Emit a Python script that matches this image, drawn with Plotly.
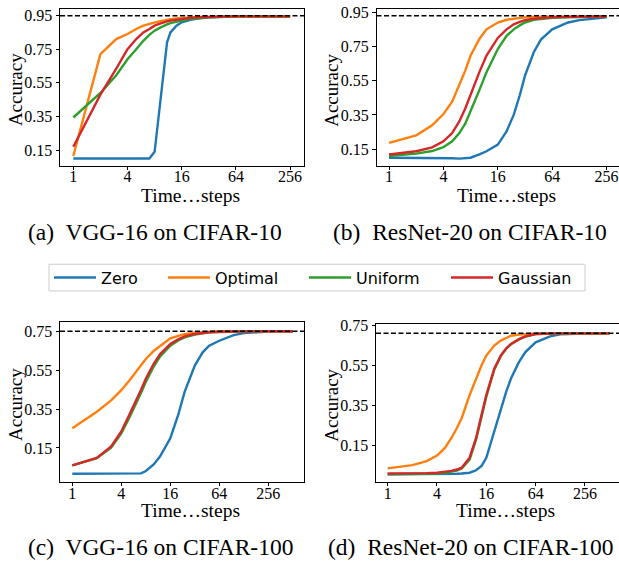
import math
import plotly.graph_objects as go

W, H = 619, 565

series_names = ["Zero", "Optimal", "Uniform", "Gaussian"]
series_colors = ["#1f77b4", "#ff7f0e", "#2ca02c", "#d62728"]

x_tick_vals = [1, 4, 16, 64, 256]
x_tick_text = ["1", "4", "16", "64", "256"]
y_ticks_top = [0.15, 0.35, 0.55, 0.75, 0.95]
y_ticks_bottom = [0.15, 0.35, 0.55, 0.75]

x_title = "Time\u2026steps"
y_title = "Accuracy"
captions = ["(a)\u00a0 VGG-16 on CIFAR-10", "(b)\u00a0 ResNet-20 on CIFAR-10",
            "(c)\u00a0 VGG-16 on CIFAR-100", "(d)\u00a0 ResNet-20 on CIFAR-100"]

# ---- (a) VGG-16 on CIFAR-10
steps_a = [1, 2, 3, 4, 5, 6, 7, 8, 9, 10, 11, 12, 14, 16, 20, 24, 32, 48, 64, 128, 256]
zero_a = [0.10, 0.10, 0.10, 0.10, 0.10, 0.10, 0.10, 0.14, 0.38, 0.615, 0.79, 0.85, 0.89, 0.91, 0.925, 0.932, 0.940, 0.943, 0.945, 0.945, 0.945]
optimal_a = [0.115, 0.72, 0.81, 0.84, 0.87, 0.89, 0.90, 0.91, 0.915, 0.92, 0.925, 0.928, 0.932, 0.935, 0.939, 0.941, 0.943, 0.944, 0.945, 0.945, 0.945]
uniform_a = [0.344, 0.49, 0.595, 0.69, 0.75, 0.80, 0.835, 0.86, 0.875, 0.888, 0.897, 0.905, 0.914, 0.92, 0.93, 0.935, 0.94, 0.943, 0.945, 0.945, 0.945]
gaussian_a = [0.17, 0.48, 0.635, 0.75, 0.81, 0.85, 0.87, 0.89, 0.90, 0.91, 0.915, 0.92, 0.926, 0.93, 0.936, 0.939, 0.942, 0.944, 0.945, 0.945, 0.945]
ref_a = 0.948

# ---- (b) ResNet-20 on CIFAR-10
steps_b = [1, 2, 3, 4, 5, 6, 7, 8, 10, 12, 16, 20, 24, 28, 32, 40, 48, 64, 96, 128, 256]
zero_b = [0.10, 0.10, 0.10, 0.10, 0.097, 0.095, 0.096, 0.10, 0.12, 0.138, 0.177, 0.254, 0.35, 0.465, 0.58, 0.716, 0.79, 0.85, 0.89, 0.904, 0.92]
optimal_b = [0.187, 0.231, 0.289, 0.355, 0.427, 0.524, 0.61, 0.697, 0.794, 0.85, 0.89, 0.906, 0.913, 0.917, 0.92, 0.922, 0.923, 0.925, 0.925, 0.925, 0.925]
uniform_b = [0.11, 0.124, 0.139, 0.162, 0.196, 0.244, 0.30, 0.37, 0.495, 0.60, 0.735, 0.812, 0.85, 0.873, 0.89, 0.905, 0.911, 0.917, 0.921, 0.923, 0.925]
gaussian_b = [0.119, 0.138, 0.161, 0.196, 0.244, 0.312, 0.389, 0.47, 0.60, 0.697, 0.80, 0.85, 0.879, 0.893, 0.904, 0.912, 0.916, 0.92, 0.923, 0.924, 0.925]
ref_b = 0.929

# ---- (c) VGG-16 on CIFAR-100
steps_c = [1, 2, 3, 4, 5, 6, 7, 8, 10, 12, 16, 20, 24, 32, 40, 48, 64, 96, 128, 256, 512]
zero_c = [0.017, 0.017, 0.017, 0.017, 0.017, 0.017, 0.019, 0.031, 0.065, 0.107, 0.20, 0.32, 0.439, 0.575, 0.643, 0.677, 0.703, 0.732, 0.742, 0.75, 0.752]
optimal_c = [0.252, 0.337, 0.395, 0.448, 0.497, 0.541, 0.578, 0.609, 0.65, 0.677, 0.715, 0.728, 0.737, 0.745, 0.748, 0.75, 0.752, 0.752, 0.752, 0.752, 0.752]
uniform_c = [0.06, 0.097, 0.152, 0.225, 0.305, 0.372, 0.435, 0.49, 0.57, 0.622, 0.677, 0.704, 0.72, 0.735, 0.742, 0.746, 0.748, 0.751, 0.752, 0.752, 0.752]
gaussian_c = [0.06, 0.099, 0.158, 0.235, 0.32, 0.388, 0.45, 0.507, 0.584, 0.635, 0.686, 0.71, 0.725, 0.738, 0.744, 0.747, 0.749, 0.751, 0.752, 0.752, 0.752]
ref_c = 0.752

# ---- (d) ResNet-20 on CIFAR-100
steps_d = [1, 2, 3, 4, 5, 6, 7, 8, 10, 12, 14, 16, 20, 24, 28, 32, 40, 48, 64, 96, 128, 256, 512]
zero_d = [0.006, 0.006, 0.006, 0.006, 0.007, 0.008, 0.009, 0.01, 0.014, 0.026, 0.048, 0.089, 0.221, 0.337, 0.42, 0.486, 0.568, 0.618, 0.667, 0.697, 0.707, 0.711, 0.712]
optimal_d = [0.036, 0.052, 0.072, 0.10, 0.138, 0.188, 0.238, 0.287, 0.403, 0.486, 0.552, 0.601, 0.651, 0.676, 0.69, 0.70, 0.706, 0.709, 0.712, 0.712, 0.712, 0.712, 0.712]
uniform_d = [0.006, 0.007, 0.008, 0.01, 0.013, 0.018, 0.025, 0.035, 0.08, 0.18, 0.295, 0.395, 0.53, 0.598, 0.635, 0.657, 0.682, 0.696, 0.709, 0.711, 0.712, 0.712, 0.712]
gaussian_d = [0.01, 0.01, 0.012, 0.014, 0.018, 0.023, 0.03, 0.039, 0.089, 0.188, 0.304, 0.403, 0.535, 0.601, 0.637, 0.659, 0.683, 0.697, 0.709, 0.711, 0.712, 0.712, 0.712]
ref_d = 0.712

panels = [
    dict(steps=steps_a, ys=[zero_a, optimal_a, uniform_a, gaussian_a], ref=ref_a, yt=y_ticks_top,
         box=(60, 3, 304, 161.5), xr=(-0.491, 8.513), yr=(0.057, 0.989), right=True,
         ytitle=(15, 85), xtitle=(190.8, 191.7), cap=(155, 228)),
    dict(steps=steps_b, ys=[zero_b, optimal_b, uniform_b, gaussian_b], ref=ref_b, yt=y_ticks_top,
         box=(376.5, 3, 619, 161.5), xr=(-0.46, 8.456), yr=(0.053, 0.969), right=False,
         ytitle=(330.7, 85), xtitle=(506.7, 191.7), cap=(470, 228)),
    dict(steps=steps_c, ys=[zero_c, optimal_c, uniform_c, gaussian_c], ref=ref_c, yt=y_ticks_bottom,
         box=(60, 319.5, 304, 481), xr=(-0.502, 9.457), yr=(-0.025, 0.799), right=True,
         ytitle=(15, 403.3), xtitle=(190.8, 510), cap=(160, 547)),
    dict(steps=steps_d, ys=[zero_d, optimal_d, uniform_d, gaussian_d], ref=ref_d, yt=y_ticks_bottom,
         box=(376, 321, 619, 481), xr=(-0.473, 9.38), yr=(-0.032, 0.761), right=False,
         ytitle=(330.7, 403.3), xtitle=(505.8, 510), cap=(470, 547)),
]

# legend geometry (px): frame box and the left end of each legend handle
legend_box = (49, 261, 585, 288)
legend_handle_x = [53, 167, 308, 450]

serif = "Liberation Serif, Times New Roman, serif"
LOG2 = math.log10(2)

fig = go.Figure()
annotations = []
shapes = []
legend_ids = ["legend", "legend2", "legend3", "legend4"]

for i, p in enumerate(panels):
    n = "" if i == 0 else str(i + 1)
    xa, ya = "x" + n, "y" + n
    for k, (name, color, ys) in enumerate(zip(series_names, series_colors, p["ys"])):
        fig.add_trace(go.Scatter(
            x=p["steps"], y=ys, mode="lines", name=name,
            line=dict(color=color, width=2.4),
            xaxis=xa, yaxis=ya, showlegend=(i == 0), legend=legend_ids[k]))
    l, t, r, b = p["box"]
    fig.layout["xaxis" + n] = dict(
        type="log", domain=[l / W, r / W], range=[p["xr"][0] * LOG2, p["xr"][1] * LOG2],
        anchor=ya, tickvals=x_tick_vals, ticktext=x_tick_text,
        ticks="outside", ticklen=3.5, tickwidth=0.8, tickcolor="black",
        ticklabelstandoff=-7,
        showline=True, linecolor="black", linewidth=1, mirror=True,
        showgrid=False, zeroline=False,
        tickfont=dict(family=serif, size=16, color="black"))
    fig.layout["yaxis" + n] = dict(
        domain=[1 - b / H, 1 - t / H], range=list(p["yr"]), anchor=xa,
        tickvals=p["yt"], ticktext=["%.2f" % v for v in p["yt"]],
        ticks="outside", ticklen=3.5, tickwidth=0.8, tickcolor="black",
        showline=True, linecolor="black", linewidth=1, mirror=p["right"],
        showgrid=False, zeroline=False,
        tickfont=dict(family=serif, size=16, color="black"))
    shapes.append(dict(type="line", xref=xa + " domain", yref=ya, x0=0, x1=1,
                       y0=p["ref"], y1=p["ref"],
                       line=dict(color="black", width=1.5, dash="5px,2.5px")))
    annotations.append(dict(text=y_title, x=p["ytitle"][0] / W, y=1 - p["ytitle"][1] / H,
                            xref="paper", yref="paper", showarrow=False, textangle=-90,
                            xanchor="center", yanchor="middle",
                            font=dict(family=serif, size=19, color="black")))
    annotations.append(dict(text=x_title, x=p["xtitle"][0] / W, y=1 - p["xtitle"][1] / H,
                            xref="paper", yref="paper", showarrow=False,
                            xanchor="center", yanchor="middle",
                            font=dict(family=serif, size=19.5, color="black")))
    annotations.append(dict(text=captions[i], x=p["cap"][0] / W, y=1 - p["cap"][1] / H,
                            xref="paper", yref="paper", showarrow=False,
                            xanchor="center", yanchor="middle",
                            font=dict(family=serif, size=23.5, color="black")))

lb = legend_box
shapes.append(dict(type="rect", xref="paper", yref="paper", layer="below",
                   x0=lb[0] / W, x1=lb[2] / W, y0=1 - lb[3] / H, y1=1 - lb[1] / H,
                   line=dict(color="#cccccc", width=1), fillcolor="white"))

legend_common = dict(orientation="h", xanchor="left", yanchor="middle",
                     y=1 - (lb[1] + lb[3]) / 2 / H, bgcolor="rgba(0,0,0,0)", borderwidth=0,
                     font=dict(family="DejaVu Sans", size=16, color="black"), itemwidth=42)
legend_layout = {}
for k, lid in enumerate(legend_ids):
    legend_layout[lid] = dict(legend_common, x=(legend_handle_x[k] - 4) / W)

fig.update_layout(
    width=W, height=H, margin=dict(l=0, r=0, t=0, b=0),
    paper_bgcolor="white", plot_bgcolor="white",
    shapes=shapes, annotations=annotations, **legend_layout,
)

fig.write_html("out.html", config={"displayModeBar": False},
               post_script="document.body.style.margin='0px';")
